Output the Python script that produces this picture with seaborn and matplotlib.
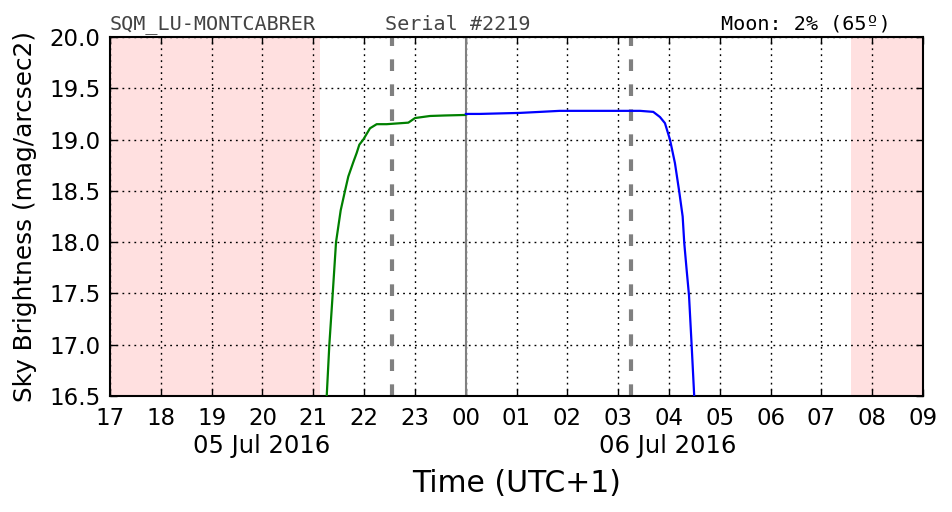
import matplotlib
matplotlib.use("Agg")
import matplotlib.pyplot as plt
import matplotlib.dates as mdates
import matplotlib.ticker as mticker
import seaborn as sns
import pandas as pd
import numpy as np

# ---- data ----
evening_times = ["2016-07-05 21:15:54", "2016-07-05 21:19:00", "2016-07-05 21:23:00", "2016-07-05 21:26:54",
                 "2016-07-05 21:32:24", "2016-07-05 21:37:30", "2016-07-05 21:41:24", "2016-07-05 21:47:18",
                 "2016-07-05 21:51:18", "2016-07-05 21:54:24", "2016-07-05 21:59:06", "2016-07-05 22:07:00",
                 "2016-07-05 22:14:54", "2016-07-05 22:26:42", "2016-07-05 22:52:18", "2016-07-05 23:00:12",
                 "2016-07-05 23:17:54", "2016-07-05 23:35:36", "2016-07-06 00:00:00"]
evening_mag = [16.5, 17.0, 17.5, 18.0, 18.31, 18.5, 18.64, 18.78, 18.87, 18.95, 19.0, 19.11,
               19.15, 19.15, 19.165, 19.21, 19.23, 19.235, 19.24]

morning_times = ["2016-07-06 00:00:00", "2016-07-06 00:16:30", "2016-07-06 00:40:00", "2016-07-06 01:04:00",
                 "2016-07-06 01:28:00", "2016-07-06 01:51:00", "2016-07-06 02:38:36", "2016-07-06 03:25:54",
                 "2016-07-06 03:41:30", "2016-07-06 03:49:24", "2016-07-06 03:55:18", "2016-07-06 04:01:12",
                 "2016-07-06 04:07:06", "2016-07-06 04:12:12", "2016-07-06 04:16:12", "2016-07-06 04:18:06",
                 "2016-07-06 04:20:54", "2016-07-06 04:23:42", "2016-07-06 04:26:54", "2016-07-06 04:29:54"]
morning_mag = [19.25, 19.25, 19.255, 19.26, 19.27, 19.28, 19.28, 19.28, 19.27, 19.22, 19.16, 19.0,
               18.77, 18.49, 18.25, 17.99, 17.73, 17.48, 16.98, 16.49]

day_spans = [("2016-07-05 17:00", "2016-07-05 21:08"), ("2016-07-06 07:35", "2016-07-06 09:00")]
twilight_lines = ["2016-07-05 22:33", "2016-07-06 03:15"]
midnight = "2016-07-06 00:00"
date_labels = [("2016-07-05 19:59", "05 Jul 2016"), ("2016-07-06 03:58", "06 Jul 2016")]
station = "SQM_LU-MONTCABRER"
serial = "Serial #2219"
moon = "Moon: 2% (65º)"
xlabel = "Time (UTC+1)"
ylabel = "Sky Brightness (mag/arcsec2)"

xlim = ("2016-07-05 17:00", "2016-07-06 09:00")
ylim = (16.5, 20.0)

# ---- plot ----
sns.set_style("white")
plt.rcParams['font.family'] = ['DejaVu Sans']
plt.rcParams['text.color'] = 'black'
plt.rcParams['xtick.color'] = 'black'
plt.rcParams['ytick.color'] = 'black'

fig = plt.figure(figsize=(9.52, 5.12), dpi=100)
ax = fig.add_axes([110/952, 1-396/512, (923-110)/952, (396-37)/512])

for a, b in day_spans:
    ax.axvspan(pd.Timestamp(a), pd.Timestamp(b), color='#ffe0e0', zorder=0, lw=0)

ev = pd.DataFrame({"t": pd.to_datetime(evening_times), "m": evening_mag})
mo = pd.DataFrame({"t": pd.to_datetime(morning_times), "m": morning_mag})
sns.lineplot(data=ev, x="t", y="m", color='green', lw=1.6, ax=ax, zorder=3)
sns.lineplot(data=mo, x="t", y="m", color='blue', lw=1.6, ax=ax, zorder=3)

for t in twilight_lines:
    ax.axvline(pd.Timestamp(t), color='gray', lw=3, ls=(0, (2.8, 3.2)), zorder=2)
ax.axvline(pd.Timestamp(midnight), color='gray', lw=1.5, zorder=2)

ax.set_xlim(pd.Timestamp(xlim[0]), pd.Timestamp(xlim[1]))
ax.set_ylim(*ylim)
ax.xaxis.set_major_locator(mdates.HourLocator())
ax.xaxis.set_major_formatter(mdates.DateFormatter('%H'))
ax.set_yticks(np.arange(16.5, 20.01, 0.5))
ax.yaxis.set_major_formatter(mticker.FormatStrFormatter('%.1f'))

ax.grid(True, color='black', ls=(0, (1.3, 3)), lw=1)
ax.tick_params(direction='in', length=5, width=1, color='black',
               top=True, right=True, bottom=True, left=True)
ax.tick_params(axis='y', labelsize=16.5, pad=7)
ax.tick_params(axis='x', labelsize=16.5, pad=8)
for s in ax.spines.values():
    s.set_color('black')
    s.set_linewidth(1.5)

ax.set_xlabel("")
ax.set_ylabel("")
ax.text(0.5, -0.2674, xlabel, transform=ax.transAxes, ha='center', va='baseline', fontsize=21.5)
ax.text(-0.1046, 0.5, ylabel, transform=ax.transAxes, ha='center', va='center',
        rotation=90, fontsize=17.8)

for t, txt in date_labels:
    ax.text(mdates.date2num(pd.Timestamp(t)), -0.1588, txt, transform=ax.get_xaxis_transform(),
            ha='center', va='baseline', fontsize=17.5)

ty = 1 + 7.5/359
ax.text(0.0, ty, station, transform=ax.transAxes, ha='left', va='baseline',
        fontsize=14.5, family='DejaVu Sans Mono', color='#444444', zorder=10)
ax.text((385-110)/813, ty, serial, transform=ax.transAxes, ha='left', va='baseline',
        fontsize=14.5, family='DejaVu Sans Mono', color='#444444', zorder=10)
ax.text((891-110)/813, ty, moon, transform=ax.transAxes, ha='right', va='baseline',
        fontsize=14.5, family='DejaVu Sans Mono', color='black', zorder=10)

fig.savefig("out.png", dpi=100)
